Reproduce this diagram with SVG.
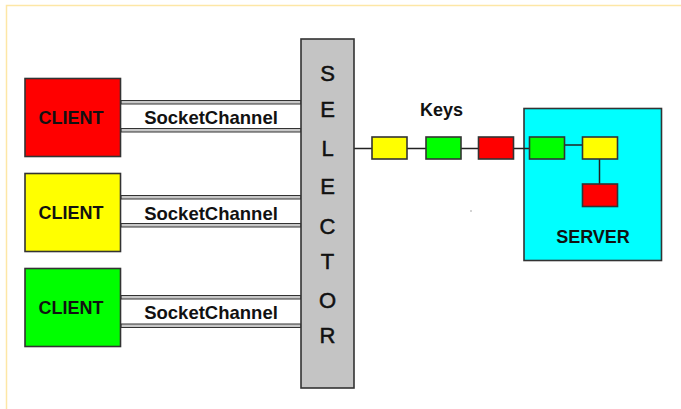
<svg xmlns="http://www.w3.org/2000/svg" width="681" height="409" viewBox="0 0 681 409">
  <style>
    .box { stroke: #333; stroke-width: 1.6; }
    .lbl { font-family: "Liberation Sans", Arial, sans-serif; font-weight: bold; fill: #111; text-anchor: middle; }
    .sel { font-family: "Liberation Sans", Arial, sans-serif; font-size: 22px; fill: #111; stroke: #111; stroke-width: 0.5; text-anchor: middle; }
    .pipe { fill: #c8c8c8; stroke: #333; stroke-width: 1; }
    .wire { stroke: #222; stroke-width: 1.5; fill: none; }
  </style>
  <rect width="681" height="409" fill="#ffffff"/>
  <path d="M6.5,409 V5.5 H681" fill="none" stroke="#fde7a6" stroke-width="1.5"/>

  <g id="server">
    <rect class="box" x="524" y="108.5" width="137.5" height="152" fill="#00ffff"/>
    <text class="lbl" x="593" y="242.5" font-size="18">SERVER</text>
  </g>

  <g id="connectors">
    <rect class="pipe" x="121" y="100.5" width="180" height="3.5"/>
    <rect class="pipe" x="121" y="128.5" width="180" height="3.5"/>
    <rect class="pipe" x="121" y="195.5" width="180" height="3.5"/>
    <rect class="pipe" x="121" y="223.5" width="180" height="3.5"/>
    <rect class="pipe" x="121" y="295.5" width="180" height="3.5"/>
    <rect class="pipe" x="121" y="324" width="180" height="3.5"/>
    <path class="wire" d="M354,148.5 H530"/>
    <path class="wire" d="M565,145 H582"/>
    <path class="wire" d="M599.5,159 V184"/>
  </g>

  <g id="client-red">
    <rect class="box" x="25" y="78.5" width="95.5" height="78" fill="#ff0000"/>
    <text class="lbl" x="71" y="123.5" font-size="18">CLIENT</text>
  </g>
  <g id="client-yellow">
    <rect class="box" x="25" y="173.5" width="95.5" height="78" fill="#ffff00"/>
    <text class="lbl" x="71" y="218.5" font-size="18">CLIENT</text>
  </g>
  <g id="client-green">
    <rect class="box" x="25" y="268.5" width="95.5" height="78" fill="#00ff00"/>
    <text class="lbl" x="71" y="314" font-size="18">CLIENT</text>
  </g>

  <g id="label-socket1"><text class="lbl" x="211" y="124" font-size="18.5">SocketChannel</text></g>
  <g id="label-socket2"><text class="lbl" x="211" y="219.5" font-size="18.5">SocketChannel</text></g>
  <g id="label-socket3"><text class="lbl" x="211" y="319" font-size="18.5">SocketChannel</text></g>

  <g id="selector">
    <rect class="box" x="301" y="39" width="53" height="349" fill="#c4c4c4"/>
    <text class="sel" x="327.5" y="80.5">S</text>
    <text class="sel" x="327.5" y="116.5">E</text>
    <text class="sel" x="327.5" y="155.5">L</text>
    <text class="sel" x="327.5" y="194">E</text>
    <text class="sel" x="327.5" y="234">C</text>
    <text class="sel" x="327.5" y="269">T</text>
    <text class="sel" x="327.5" y="307.5">O</text>
    <text class="sel" x="327.5" y="343">R</text>
  </g>

  <g id="keys-label"><text class="lbl" x="441.5" y="116" font-size="18">Keys</text></g>

  <g id="key-yellow"><rect class="box" x="372" y="137" width="35" height="22" fill="#ffff00"/></g>
  <g id="key-green"><rect class="box" x="426" y="137" width="35" height="22" fill="#00ff00"/></g>
  <g id="key-red"><rect class="box" x="478.5" y="137" width="35" height="22" fill="#ff0000"/></g>

  <g id="server-key-green"><rect class="box" x="529.5" y="137" width="35" height="22" fill="#00ff00"/></g>
  <g id="server-key-yellow"><rect class="box" x="582.5" y="137" width="35" height="22" fill="#ffff00"/></g>
  <g id="server-key-red"><rect class="box" x="582.5" y="184" width="35" height="22.5" fill="#ff0000"/></g>

  <rect x="470.5" y="210.5" width="1" height="1" fill="#555"/>
</svg>
